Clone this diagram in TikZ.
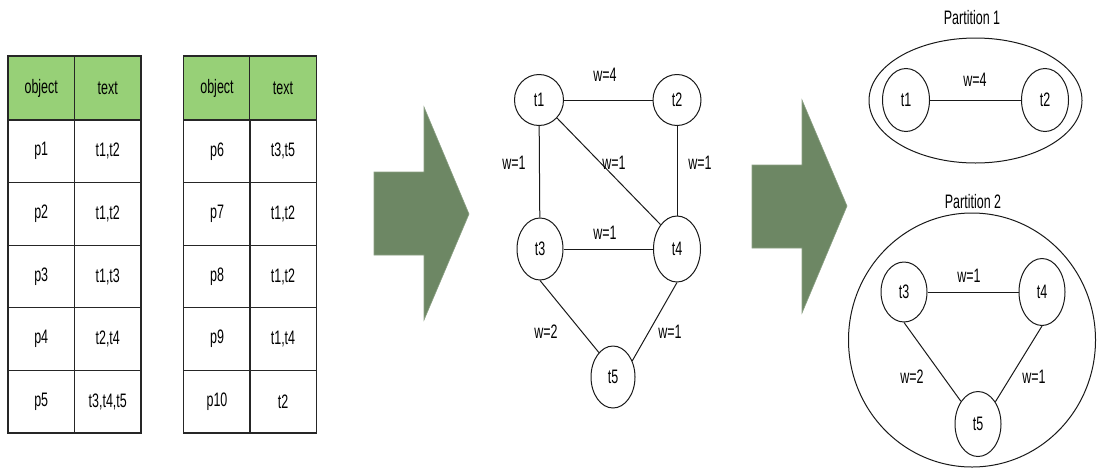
\documentclass[tikz,border=0pt]{standalone}
\usepackage{fontspec}
\setmainfont[FakeStretch=0.64]{Liberation Sans}
\usetikzlibrary{shapes.geometric}
\definecolor{hdr}{HTML}{97D077}
\definecolor{arr}{HTML}{6D8764}
\begin{document}
\begin{tikzpicture}[x=1pt,y=-1pt,
  font=\fontsize{19.5}{21}\selectfont,
  cell/.style={draw=black!85, line width=1.3pt, minimum width=66.5pt, minimum height=62.6pt, inner sep=0pt},
  hcell/.style={cell, fill=hdr, minimum height=64pt},
  vtx/.style={ellipse, draw=black!90, line width=1pt, inner sep=0pt},
  edge/.style={draw=black!90, line width=1pt},
  lbl/.style={inner sep=0pt},
  bignode/.style={ellipse, draw=black!90, line width=1pt, inner sep=0pt},
  bigarrow/.style={fill=arr, draw=arr!80!white, line width=0.6pt}]
\useasboundingbox (0,0) rectangle (1097,472);
% ---- table 1 ----
\node[hcell] (ah1) at (41.25,88) {object};
\node[hcell] (ah2) at (107.75,88) {text};
\foreach \i/\a/\b in {1/p1/{t1,t2},2/p2/{t1,t2},3/p3/{t1,t3},4/p4/{t2,t4},5/p5/{t3,t4,t5}}{
  \node[cell] (a\i1) at (41.25,{120+62.6*(\i-0.5)}) {\a};
  \node[cell] (a\i2) at (107.75,{120+62.6*(\i-0.5)}) {\b};
}
% ---- table 2 ----
\node[hcell] (bh1) at (217,88) {object};
\node[hcell] (bh2) at (283,88) {text};
\foreach \i/\a/\b in {1/p6/{t3,t5},2/p7/{t1,t2},3/p8/{t1,t2},4/p9/{t1,t4},5/p10/{t2}}{
  \node[cell] (b\i1) at (217,{120+62.6*(\i-0.5)}) {\a};
  \node[cell] (b\i2) at (283,{120+62.6*(\i-0.5)}) {\b};
}
% ---- big arrows ----
\path[bigarrow] (374,172) -- (424,172) -- (424,107) -- (469,214) -- (424,320) -- (424,255) -- (374,255) -- cycle;
\path[bigarrow] (752,165) -- (802,165) -- (802,100) -- (847,206) -- (802,313) -- (802,248) -- (752,248) -- cycle;
% ---- graph ----
\node[vtx, minimum width=49pt, minimum height=51pt] (g1) at (539,100) {t1};
\node[vtx, minimum width=48pt, minimum height=51pt] (g2) at (677,100) {t2};
\node[vtx, minimum width=46pt, minimum height=62pt] (g3) at (540,249) {t3};
\node[vtx, minimum width=47pt, minimum height=66pt] (g4) at (677,249) {t4};
\node[vtx, minimum width=44pt, minimum height=62pt] (g5) at (613,377) {t5};
\draw[edge] (g1) -- (g2);
\draw[edge] (g1) -- (g3);
\draw[edge] (g2) -- (g4);
\draw[edge] (g1.-45) -- (g4.124);
\draw[edge] (g3) -- (g4);
\draw[edge] (g3.south) -- (g5.120);
\draw[edge] (g4.south) -- (g5.40);
\node[lbl] (l12) at (605,75) {w=4};
\node[lbl] (l13) at (514,163) {w=1};
\node[lbl] (l14) at (614,163) {w=1};
\node[lbl] (l24) at (700,163) {w=1};
\node[lbl] (l34) at (605,233) {w=1};
\node[lbl] (l35) at (546,332) {w=2};
\node[lbl] (l45) at (670,332) {w=1};
% ---- partition 1 ----
\node[lbl] (pt1) at (972,18) {Partition 1};
\node[bignode, minimum width=213pt, minimum height=125pt] (part1) at (975.5,100.5) {};
\node[vtx, minimum width=47pt, minimum height=63pt] (q1) at (906,100) {t1};
\node[vtx, minimum width=47pt, minimum height=63pt] (q2) at (1045,100) {t2};
\draw[edge] (q1) -- (q2);
\node[lbl] (m12) at (975,80) {w=4};
% ---- partition 2 ----
\node[lbl] (pt2) at (973,202) {Partition 2};
\node[bignode, minimum width=247pt, minimum height=254pt] (part2) at (972,340) {};
\node[vtx, minimum width=46pt, minimum height=60pt] (r3) at (904,292) {t3};
\node[vtx, minimum width=46pt, minimum height=67pt] (r4) at (1042,292) {t4};
\node[vtx, minimum width=46pt, minimum height=65pt] (r5) at (978,424) {t5};
\draw[edge] (r3) -- (r4);
\draw[edge] (r3.south) -- (r5.127);
\draw[edge] (r4.south) -- (r5.52);
\node[lbl] (m34) at (969,276) {w=1};
\node[lbl] (m35) at (912,377) {w=2};
\node[lbl] (m45) at (1034,377) {w=1};
\end{tikzpicture}
\end{document}
